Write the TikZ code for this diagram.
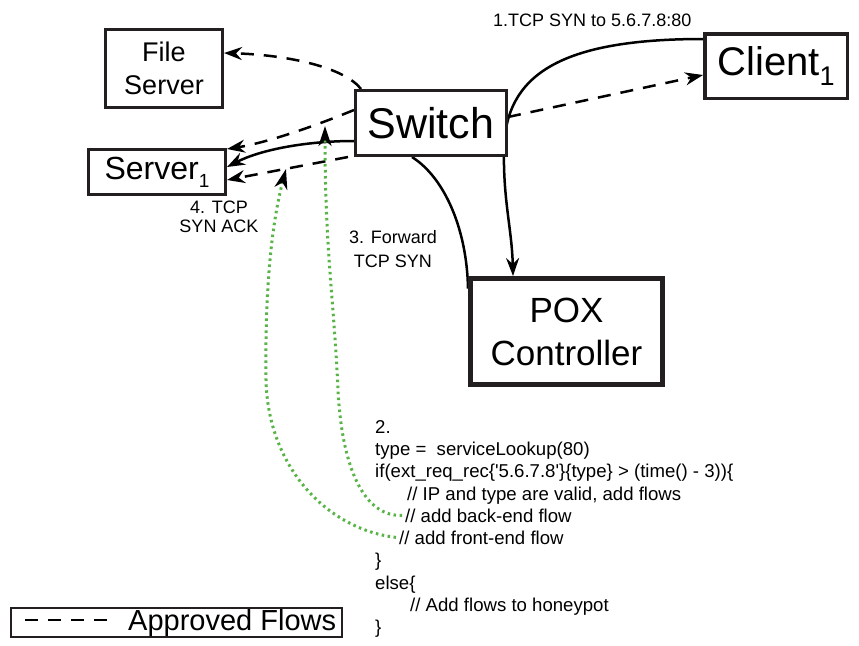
\documentclass[tikz,border=0pt]{standalone}
\usepackage{fontspec}
\setmainfont{Liberation Sans}
\usetikzlibrary{arrows.meta}
\definecolor{boxline}{RGB}{35,31,32}
\definecolor{flowgreen}{RGB}{88,180,70}
\newcommand{\setfs}[1]{\fontsize{#1}{#1}\selectfont}
\pgfdeclarelayer{links}
\pgfsetlayers{links,main}

\begin{document}
\begin{tikzpicture}[x=1pt,y=-1pt,
  box/.style={draw=boxline, line width=3pt, fill=white, inner sep=0pt, align=center},
  tipend/.style={-{Stealth[length=18pt,width=13pt,inset=6pt]}},
  solidlink/.style={draw=black, line width=2.5pt},
  flowlink/.style={draw=black, line width=2.5pt, dash pattern=on 13pt off 10pt},
  greenlink/.style={draw=flowgreen, line width=3pt, dash pattern=on 2.5pt off 3.5pt,
    -{Stealth[length=20pt,width=13pt,inset=6pt,color=black]}},
  lbl/.style={inner sep=0pt, font=\setfs{18}},
  codeline/.style={inner sep=0pt, anchor=base west, font=\setfs{18.6}},
]
\useasboundingbox (0,0) rectangle (859,645);

% ---------- boxes ----------
\node[box, minimum width=117pt, minimum height=78pt, font=\setfs{27}]
  (filesrv) at (164,68.5) {File\\[6pt]Server};
\node[box, minimum width=151pt, minimum height=65pt, font=\setfs{43}]
  (switch) at (431,123) {Switch};
\node[box, minimum width=137pt, minimum height=45pt, font=\setfs{32}]
  (server) at (157,172) {Server\raisebox{-8pt}{\setfs{19}1}};
\node[box, line width=3.5pt, minimum width=142.5pt, minimum height=64.5pt, font=\setfs{40}]
  (client) at (776,66) {Client\raisebox{-10pt}{\setfs{27}1}};
\node[box, line width=5pt, minimum width=192pt, minimum height=106pt, font=\setfs{35}]
  (pox) at (566.5,331.5) {POX\\[8pt]Controller};

% ---------- connectors, drawn beneath the boxes ----------
\begin{pgfonlayer}{links}
% 1. client to controller
\draw[solidlink, tipend] ([yshift=27pt]client.west)
  .. controls (560,39) and (505,75) .. (504,150)
  .. controls (503,200) and (512,230) .. ([xshift=-53.5pt]pox.north);
% 3. switch to controller
\draw[solidlink] ([xshift=-19pt]switch.south)
  .. controls (445,178) and (467,230) .. ([yshift=43pt]pox.west);
% 4. switch to server
\draw[solidlink, tipend] ([yshift=-18pt]switch.west)
  .. controls (305,141) and (260,150) .. ([yshift=5pt]server.east);

% approved flows
\draw[flowlink, tipend] ([xshift=7pt]switch.north west)
  .. controls (345,68) and (290,55) .. ([yshift=15.5pt]filesrv.east);
\draw[flowlink, tipend] ([yshift=13pt]switch.west)
  .. controls (310,128) and (265,143) .. ([yshift=23pt]server.east);
\draw[flowlink, tipend] ([xshift=-6pt]switch.south west) -- ([yshift=-8pt]server.east);
\draw[flowlink, tipend] ([yshift=6pt]switch.east) -- ([yshift=-9pt]client.west);
\end{pgfonlayer}

% ---------- labels ----------
\node[lbl, anchor=base west] (lbl1) at (493,26) {1.TCP SYN to 5.6.7.8:80};
\node[lbl, anchor=base] (lbl3a) at (393,243) {3. Forward};
\node[lbl, anchor=base] (lbl3b) at (393,267) {TCP SYN};
\node[lbl, anchor=base] (lbl4a) at (219,213) {4. TCP};
\node[lbl, anchor=base] (lbl4b) at (219,232) {SYN ACK};

% ---------- controller logic ----------
\node[codeline] (code1) at (375,433) {2.};
\node[codeline] (code2) at (375,455) {type =\ \ serviceLookup(80)};
\node[codeline] (code3) at (375,477)
  {if(ext\_req\_rec\{\textquotesingle5.6.7.8\textquotesingle\}\{type\} > (time() - 3))\{};
\node[codeline] (code4) at (407,500) {// IP and type are valid, add flows};
\node[codeline] (code5) at (405,522) {// add back-end flow};
\node[codeline] (code6) at (399,544) {// add front-end flow};
\node[codeline] (code7) at (375,566) {\}};
\node[codeline] (code8) at (375,589) {else\{};
\node[codeline] (code9) at (410,611) {// Add flows to honeypot};
\node[codeline] (code10) at (375,633) {\}};

% flows installed by the controller
\coordinate (backtip) at (325,126);
\coordinate (fronttip) at (286,169);
\draw[greenlink] ([xshift=-3pt]code5.west)
  .. controls (365,517) and (342,470) .. (338,390)
  .. controls (334,300) and (325,250) .. (backtip);
\draw[greenlink] ([xshift=-3pt]code6.west)
  .. controls (330,530) and (268,470) .. (266,380)
  .. controls (265,300) and (270,230) .. (fronttip);

% ---------- legend ----------
\node[draw=boxline, line width=2pt, minimum width=331pt, minimum height=29pt, inner sep=0pt]
  (legend) at (176.5,622.5) {};
\coordinate (legA) at (25,620);
\coordinate (legB) at (108,620);
\draw[flowlink] (legA) -- (legB);
\node[inner sep=0pt, anchor=base west, font=\setfs{29}] (legtxt) at (128,630) {Approved Flows};
\end{tikzpicture}
\end{document}
